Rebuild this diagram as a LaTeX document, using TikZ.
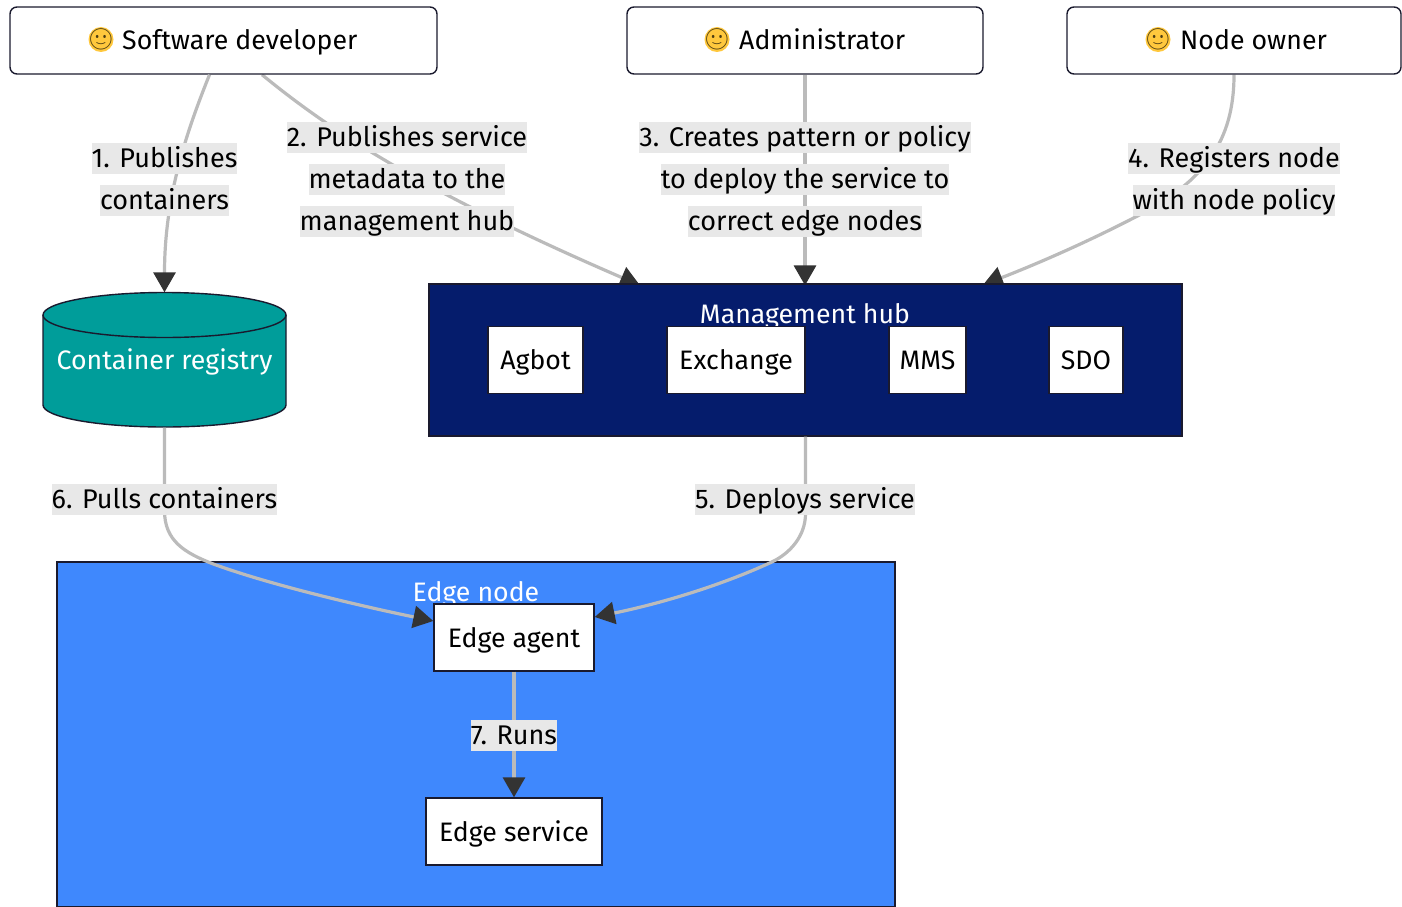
\documentclass[tikz,border=0pt]{standalone}
\usepackage{fontspec}
\setmainfont{Fira Sans}
\newfontfamily\emojifont{Noto Emoji}
\usetikzlibrary{arrows.meta,calc}
\definecolor{hubblue}{HTML}{051C6C}
\definecolor{edgeblue}{HTML}{3F88FD}
\definecolor{teal}{HTML}{009D9A}
\definecolor{linegrey}{HTML}{BBBBBB}
\definecolor{labelgrey}{HTML}{E8E8E8}
\definecolor{tipdark}{HTML}{333333}
\definecolor{borderdark}{HTML}{1A1A2E}
\definecolor{smile}{HTML}{FFC83D}
\newcommand{\hl}[1]{{\setlength{\fboxsep}{0pt}\colorbox{labelgrey}{\rule[-6pt]{0pt}{31pt}#1}}}
\pgfdeclarelayer{under}
\pgfsetlayers{under,main}
\tikzset{
  txt/.style={font=\fontsize{26.7}{30}\selectfont,text height=23pt,text depth=4pt},
  actor/.style={draw=borderdark,line width=1.4pt,rounded corners=7pt,fill=white,inner sep=0pt,minimum height=67pt},
  inbox/.style={txt,draw=borderdark,line width=1.4pt,fill=white,inner sep=0pt,minimum height=67pt},
  grp/.style={draw=borderdark,line width=1.2pt,inner sep=0pt},
  grptitle/.style={txt,text=white,inner sep=0pt},
  conn/.style={draw=linegrey,line width=3.2pt,-{Triangle[length=20pt,width=22pt,color=tipdark]}},
  elabel/.style={align=center,inner sep=0pt,font=\fontsize{27}{42}\selectfont},
  face/.style={inner sep=0pt,text=black!70!smile,font=\emojifont\fontsize{21}{21}\selectfont},
  cyl/.style={draw=borderdark,line width=1.4pt,fill=teal},
}
\begin{document}
\begin{tikzpicture}[x=1pt,y=-1pt]
\useasboundingbox (0,0) rectangle (1402,907);
% actors
\node[actor,minimum width=427pt] (dev) at (223.5,40.5) {};
\node[actor,minimum width=356pt] (admin) at (805,40.5) {};
\node[actor,minimum width=334pt] (owner) at (1234,40.5) {};
\fill[smile] (101,39.5) circle (12.5);
\fill[smile] (717,39.5) circle (12.5);
\fill[smile] (1158,39.5) circle (12.5);
\node[face] (f1) at (101,39.5) {🙂};
\node[txt,anchor=west,inner sep=0pt] (t1) at (122,40.5) {Software developer};
\node[face] (f2) at (717,39.5) {🙂};
\node[txt,anchor=west,inner sep=0pt] (t2) at (739,40.5) {Administrator};
\node[face] (f3) at (1158,39.5) {🙂};
\node[txt,anchor=west,inner sep=0pt] (t3) at (1180,40.5) {Node owner};
% hub
\node[grp,fill=hubblue,minimum width=753pt,minimum height=152pt] (hub) at (805.5,360) {};
\node[grptitle] (hubt) at (805,314) {Management hub};
\node[inbox,minimum width=95pt] (agbot) at (535.5,360) {Agbot};
\node[inbox,minimum width=138pt] (exch) at (736,360) {Exchange};
\node[inbox,minimum width=77pt] (mms) at (927.5,360) {MMS};
\node[inbox,minimum width=74pt] (sdo) at (1086,360) {SDO};
% registry
\draw[cyl] (43,315) -- (43,405) arc[start angle=180,end angle=0,x radius=121.5,y radius=22] -- (286,315) arc[start angle=0,end angle=-180,x radius=121.5,y radius=22.5] -- cycle;
\draw[cyl,fill=none] (43,315) arc[start angle=180,end angle=0,x radius=121.5,y radius=22.5];
\node[txt,text=white,inner sep=0pt,minimum width=243pt,minimum height=135pt] (reg) at (164.5,360) {Container registry};
% edge node
\node[grp,fill=edgeblue,minimum width=838pt,minimum height=345pt] (enode) at (476,734.5) {};
\node[grptitle] (enodet) at (476,592) {Edge node};
\node[inbox,minimum width=160pt] (agent) at (514,637.5) {Edge agent};
\node[inbox,minimum width=176pt] (svc) at (514,831.5) {Edge service};
% connectors into the hub, behind it
\begin{pgfonlayer}{under}
\draw[conn] ($(dev.south)+(38.5,0)$) .. controls ($(dev.south)+(111.5,60)$) and ($(dev.south)+(206.5,120)$) .. ($(hub.north)+(-165.5,2)$);
\draw[conn] (admin.south) -- ($(hub.north)+(-0.5,2)$);
\draw[conn] (owner.south) .. controls ($(owner.south)+(0,66)$) and ($(owner.south)+(-29,106)$) .. ($(owner.south)+(-96,141)$) .. controls ($(owner.south)+(-144,166)$) and ($(owner.south)+(-194,188)$) .. ($(hub.north)+(177.5,1.5)$);
\end{pgfonlayer}
\draw[conn] ($(dev.south)+(-14,0)$) .. controls ($(dev.south)+(-36,55)$) and ($(dev.south)+(-59,120)$) .. (reg.north);
\draw[conn] (reg.south) -- ($(reg.south)+(0,83)$) .. controls ($(reg.south)+(0,113)$) and ($(reg.south)+(20,125)$) .. ($(reg.south)+(48,136)$) .. controls ($(reg.south)+(105,157)$) and ($(reg.south)+(195,178)$) .. ($(agent.west)+(0,-16.5)$);
\draw[conn] (hub.south) -- ($(hub.south)+(0,77)$) .. controls ($(hub.south)+(0,99)$) and ($(hub.south)+(-15,117)$) .. ($(hub.south)+(-35,126)$) .. controls ($(hub.south)+(-85,149)$) and ($(hub.south)+(-145,167)$) .. ($(agent.east)+(0,-20.5)$);
\draw[conn] (agent.south) -- (svc.north);
% edge labels
\node[elabel] (l1) at (164.5,179) {\hl{1. Publishes}\\\hl{containers}};
\node[elabel] (l2) at (407,179) {\hl{2. Publishes service}\\\hl{metadata to the}\\\hl{management hub}};
\node[elabel] (l3) at (805,179) {\hl{3. Creates pattern or policy}\\\hl{to deploy the service to}\\\hl{correct edge nodes}};
\node[elabel] (l4) at (1234,179) {\hl{4. Registers node}\\\hl{with node policy}};
\node[elabel] (l5) at (805,499) {\hl{5. Deploys service}};
\node[elabel] (l6) at (164.5,499) {\hl{6. Pulls containers}};
\node[elabel] (l7) at (514,735) {\hl{7. Runs}};
\end{tikzpicture}
\end{document}
